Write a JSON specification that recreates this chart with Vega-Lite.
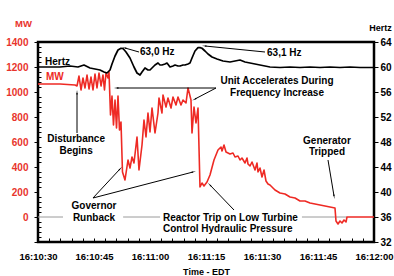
{
  "$schema": "https://vega.github.io/schema/vega-lite/v6.json",
  "width": 336,
  "height": 200,
  "autosize": "none",
  "padding": {"left": 38, "top": 42, "right": 20, "bottom": 34},
  "background": "white",
  "config": {
    "font": "Liberation Sans",
    "view": {"stroke": "black", "strokeWidth": 2.5},
    "axis": {"domain": false, "grid": false, "labelFontWeight": "bold", "titleFontWeight": "bold", "tickColor": "black", "tickWidth": 1, "labelOverlap": false}
  },
  "datasets": {
    "mw": [
      {"s":0,"MW":1064},{"s":5.89,"MW":1064},{"s":9.91,"MW":1056},{"s":10.45,"MW":1048},{"s":10.98,"MW":1128},
      {"s":11.52,"MW":1016},{"s":12.05,"MW":1112},{"s":12.59,"MW":1032},{"s":13.13,"MW":1136},{"s":13.66,"MW":1024},
      {"s":14.2,"MW":1120},{"s":14.73,"MW":1016},{"s":15.27,"MW":1144},{"s":15.8,"MW":1032},{"s":16.34,"MW":1152},
      {"s":16.88,"MW":1048},{"s":17.41,"MW":1136},{"s":17.81,"MW":1016},{"s":18.21,"MW":1152},{"s":18.75,"MW":1112},
      {"s":19.02,"MW":1160},{"s":19.42,"MW":816},{"s":19.82,"MW":968},{"s":20.22,"MW":736},{"s":20.63,"MW":936},
      {"s":21.03,"MW":712},{"s":21.43,"MW":968},{"s":21.83,"MW":696},{"s":22.23,"MW":760},{"s":22.63,"MW":360},
      {"s":23.3,"MW":296},{"s":24.11,"MW":456},{"s":24.64,"MW":392},{"s":25.18,"MW":480},{"s":25.71,"MW":432},
      {"s":26.52,"MW":640},{"s":27.05,"MW":376},{"s":27.86,"MW":576},{"s":28.39,"MW":776},{"s":28.93,"MW":640},
      {"s":29.46,"MW":832},{"s":30.0,"MW":680},{"s":30.54,"MW":872},{"s":31.34,"MW":672},{"s":32.14,"MW":832},
      {"s":32.41,"MW":952},{"s":33.21,"MW":832},{"s":33.48,"MW":976},{"s":34.29,"MW":880},{"s":34.82,"MW":952},
      {"s":35.63,"MW":872},{"s":36.16,"MW":960},{"s":36.96,"MW":896},{"s":37.5,"MW":960},{"s":38.3,"MW":896},
      {"s":38.84,"MW":936},{"s":39.64,"MW":912},{"s":40.18,"MW":1032},{"s":40.98,"MW":936},{"s":41.25,"MW":672},
      {"s":41.79,"MW":880},{"s":42.32,"MW":752},{"s":42.86,"MW":872},{"s":43.39,"MW":240},{"s":43.93,"MW":272},
      {"s":44.46,"MW":248},{"s":45.27,"MW":280},{"s":46.07,"MW":336},{"s":47.14,"MW":456},{"s":48.21,"MW":536},
      {"s":49.02,"MW":560},{"s":49.29,"MW":528},{"s":49.82,"MW":576},{"s":50.36,"MW":520},{"s":51.43,"MW":504},
      {"s":52.23,"MW":512},{"s":52.77,"MW":480},{"s":53.57,"MW":488},{"s":54.11,"MW":456},{"s":54.64,"MW":472},
      {"s":55.45,"MW":432},{"s":55.98,"MW":472},{"s":56.25,"MW":424},{"s":56.79,"MW":408},{"s":57.32,"MW":440},
      {"s":58.13,"MW":376},{"s":58.66,"MW":432},{"s":58.93,"MW":360},{"s":59.46,"MW":392},{"s":60.0,"MW":320},
      {"s":60.54,"MW":376},{"s":61.07,"MW":288},{"s":61.61,"MW":264},{"s":62.14,"MW":256},{"s":63.48,"MW":216},
      {"s":64.82,"MW":192},{"s":66.16,"MW":184},{"s":67.5,"MW":160},{"s":68.84,"MW":152},{"s":70.18,"MW":128},
      {"s":71.52,"MW":128},{"s":72.86,"MW":112},{"s":74.2,"MW":104},{"s":75.54,"MW":96},{"s":76.88,"MW":88},
      {"s":78.21,"MW":80},{"s":79.55,"MW":72},{"s":79.82,"MW":-32},{"s":80.36,"MW":-56},{"s":80.89,"MW":-32},
      {"s":81.43,"MW":-48},{"s":81.96,"MW":-24},{"s":82.5,"MW":-40},{"s":82.77,"MW":0},{"s":90,"MW":0}
    ],
    "hz": [
      {"s":0,"Hz":60.0},{"s":5.89,"Hz":60.0},{"s":8.57,"Hz":60.16},{"s":10.71,"Hz":60.0},{"s":12.32,"Hz":60.32},
      {"s":13.93,"Hz":59.84},{"s":15.27,"Hz":59.68},{"s":16.61,"Hz":59.52},{"s":17.68,"Hz":59.2},{"s":18.48,"Hz":59.04},
      {"s":19.29,"Hz":59.52},{"s":19.82,"Hz":60.48},{"s":20.63,"Hz":61.76},{"s":21.43,"Hz":62.72},{"s":22.23,"Hz":63.0},
      {"s":22.77,"Hz":62.95},{"s":23.57,"Hz":62.4},{"s":24.64,"Hz":61.44},{"s":25.71,"Hz":60.0},{"s":26.52,"Hz":59.04},
      {"s":27.32,"Hz":58.72},{"s":27.86,"Hz":59.2},{"s":28.66,"Hz":59.84},{"s":29.46,"Hz":59.52},{"s":30.0,"Hz":59.52},
      {"s":30.8,"Hz":60.0},{"s":31.34,"Hz":60.32},{"s":32.14,"Hz":60.64},{"s":32.68,"Hz":60.32},{"s":33.21,"Hz":60.32},
      {"s":34.02,"Hz":60.48},{"s":34.55,"Hz":60.64},{"s":35.36,"Hz":60.0},{"s":36.16,"Hz":60.16},{"s":36.7,"Hz":60.32},
      {"s":37.5,"Hz":60.16},{"s":38.04,"Hz":60.16},{"s":38.84,"Hz":60.32},{"s":39.38,"Hz":60.32},{"s":40.18,"Hz":60.48},
      {"s":40.71,"Hz":60.64},{"s":41.25,"Hz":61.44},{"s":42.05,"Hz":62.56},{"s":42.86,"Hz":63.1},{"s":43.39,"Hz":63.1},
      {"s":43.93,"Hz":63.0},{"s":44.73,"Hz":62.56},{"s":45.54,"Hz":62.08},{"s":46.61,"Hz":61.6},{"s":47.95,"Hz":61.28},
      {"s":49.55,"Hz":60.96},{"s":51.43,"Hz":60.8},{"s":52.77,"Hz":60.96},{"s":54.11,"Hz":61.12},{"s":55.45,"Hz":60.8},
      {"s":56.79,"Hz":60.64},{"s":58.13,"Hz":60.48},{"s":59.46,"Hz":60.32},{"s":60.8,"Hz":60.16},{"s":62.14,"Hz":60.0},
      {"s":64.82,"Hz":59.92},{"s":67.5,"Hz":60.0},{"s":70.18,"Hz":59.92},{"s":72.86,"Hz":60.0},{"s":75.54,"Hz":59.92},
      {"s":78.21,"Hz":60.0},{"s":80.89,"Hz":59.92},{"s":83.57,"Hz":60.0},{"s":86.25,"Hz":59.92},{"s":90,"Hz":59.92}
    ],
    "zero": [
      {"s":0,"s2":6.7,"MW":0},{"s":22.8,"s2":32.7,"MW":0},{"s":70.7,"s2":82.8,"MW":0}
    ],
    "arrows": [
      {"s":27.05,"MW":1320,"s2":23.3,"MW2":1352},
      {"s":60.8,"MW":1320,"s2":44.73,"MW2":1368},
      {"s":47.68,"MW":1032,"s2":21.16,"MW2":1032},
      {"s":47.68,"MW":1032,"s2":42.05,"MW2":944},
      {"s":10.45,"MW":672,"s2":10.45,"MW2":992},
      {"s":14.73,"MW":152,"s2":21.96,"MW2":384},
      {"s":14.73,"MW":152,"s2":41.52,"MW2":360},
      {"s":52.5,"MW":56,"s2":46.07,"MW2":256},
      {"s":77.68,"MW":456,"s2":79.29,"MW2":168}
    ],
    "centered": [
      {"s":64.02,"MW":1088,"label":"Unit Accelerates During"},
      {"s":64.02,"MW":992,"label":"Frequency Increase"},
      {"s":10.2,"MW":624,"label":"Disturbance"},
      {"s":10.2,"MW":528,"label":"Begins"},
      {"s":15.0,"MW":88,"label":"Governor"},
      {"s":15.0,"MW":-8,"label":"Runback"},
      {"s":77.4,"MW":608,"label":"Generator"},
      {"s":77.4,"MW":520,"label":"Tripped"}
    ],
    "lefttext": [
      {"s":27.32,"MW":1320,"label":"63,0 Hz"},
      {"s":61.34,"MW":1312,"label":"63,1 Hz"},
      {"s":1.88,"MW":1240,"label":"Hertz"},
      {"s":33.48,"MW":-8,"label":"Reactor Trip on Low Turbine"},
      {"s":33.48,"MW":-96,"label":"Control Hydraulic Pressure"}
    ],
    "redtext": [
      {"s":2.14,"MW":1120,"label":"MW"}
    ]
  },
  "encoding": {
    "x": {"field": "s", "type": "quantitative", "scale": {"domain": [0, 90], "nice": false, "zero": false},
      "axis": {"values": [0,3,6,9,12,15,18,21,24,27,30,33,36,39,42,45,48,51,54,57,60,63,66,69,72,75,78,81,84,87,90],
        "labelExpr": "datum.value % 15 === 0 ? timeFormat(datetime(2003,7,14,16,10,30+datum.value),'%H:%M:%S') : ''",
        "labelOverlap": false, "labelBound": false,
        "tickSize": -4, "labelPadding": 13, "labelFontSize": 9.5, "labelColor": "black", "labelFlush": false,
        "title": "Time - EDT", "titleFontSize": 9, "titlePadding": 7, "titleColor": "black"}}
  },
  "layer": [
    {
      "encoding": {
        "y": {"field": "MW", "type": "quantitative", "scale": {"domain": [-200, 1400], "nice": false, "zero": false},
          "axis": {"values": [-200,-160,-120,-80,-40,0,40,80,120,160,200,240,280,320,360,400,440,480,520,560,600,640,680,720,760,800,840,880,920,960,1000,1040,1080,1120,1160,1200,1240,1280,1320,1360,1400],
            "format": "d",
            "labelExpr": "datum.value >= 0 && datum.value % 200 === 0 ? datum.label : ''",
            "labelOverlap": false, "labelBound": false,
            "tickSize": {"condition": {"test": "datum.value % 200 === 0", "value": 4}, "value": -3},
            "labelPadding": 6, "labelFontSize": 10, "labelColor": "#e8342c", "labelFlush": false,
            "title": "MW", "titleColor": "#e8342c", "titleFontSize": 9.5, "titleAngle": 0, "titleAlign": "center", "titleBaseline": "middle",
            "titleX": -15, "titleY": -19}}
      },
      "layer": [
        {
          "data": {"name": "zero"},
          "mark": {"type": "rule", "color": "#9a9a9a", "strokeWidth": 1},
          "encoding": {"x2": {"field": "s2"}}
        },
        {
          "data": {"name": "mw"},
          "mark": {"type": "line", "color": "#ee2a24", "strokeWidth": 1.6, "strokeJoin": "round"}
        },
        {
          "data": {"name": "arrows"},
          "mark": {"type": "rule", "color": "black", "strokeWidth": 1},
          "encoding": {"x2": {"field": "s2"}, "y2": {"field": "MW2"}}
        },
        {
          "data": {"name": "arrows"},
          "transform": [
            {"calculate": "atan2((datum.s2 - datum.s) * 336 / 90, (datum.MW2 - datum.MW) / 8) * 180 / PI", "as": "ang"},
            {"calculate": "datum.s2", "as": "s"},
            {"calculate": "datum.MW2", "as": "MW"}
          ],
          "mark": {"type": "point", "shape": "wedge", "filled": true, "color": "black", "size": 28, "opacity": 1},
          "encoding": {
            "angle": {"field": "ang", "type": "quantitative", "scale": null}
          }
        },
        {
          "data": {"name": "centered"},
          "mark": {"type": "text", "fontWeight": "bold", "fontSize": 10, "align": "center", "baseline": "middle", "color": "black"},
          "encoding": {"text": {"field": "label"}}
        },
        {
          "data": {"name": "lefttext"},
          "mark": {"type": "text", "fontWeight": "bold", "fontSize": 10, "align": "left", "baseline": "middle", "color": "black"},
          "encoding": {"text": {"field": "label"}}
        },
        {
          "data": {"name": "redtext"},
          "mark": {"type": "text", "fontWeight": "bold", "fontSize": 10, "align": "left", "baseline": "middle", "color": "#ee2a24"},
          "encoding": {"text": {"field": "label"}}
        }
      ]
    },
    {
      "data": {"name": "hz"},
      "mark": {"type": "line", "color": "black", "strokeWidth": 1.7, "strokeJoin": "round"},
      "encoding": {
        "y": {"field": "Hz", "type": "quantitative", "scale": {"domain": [32, 64], "nice": false, "zero": false},
          "axis": {"orient": "right", "values": [32,36,40,44,48,52,56,60,64], "tickSize": 4, "labelPadding": 2,
            "labelFontSize": 10, "labelColor": "black", "labelFlush": false,
            "title": "Hertz", "titleFontSize": 9, "titleColor": "black", "titleAngle": 0, "titleAlign": "center", "titleBaseline": "middle",
            "titleX": 6, "titleY": -15}}
      }
    }
  ],
  "resolve": {"scale": {"y": "independent"}}
}
